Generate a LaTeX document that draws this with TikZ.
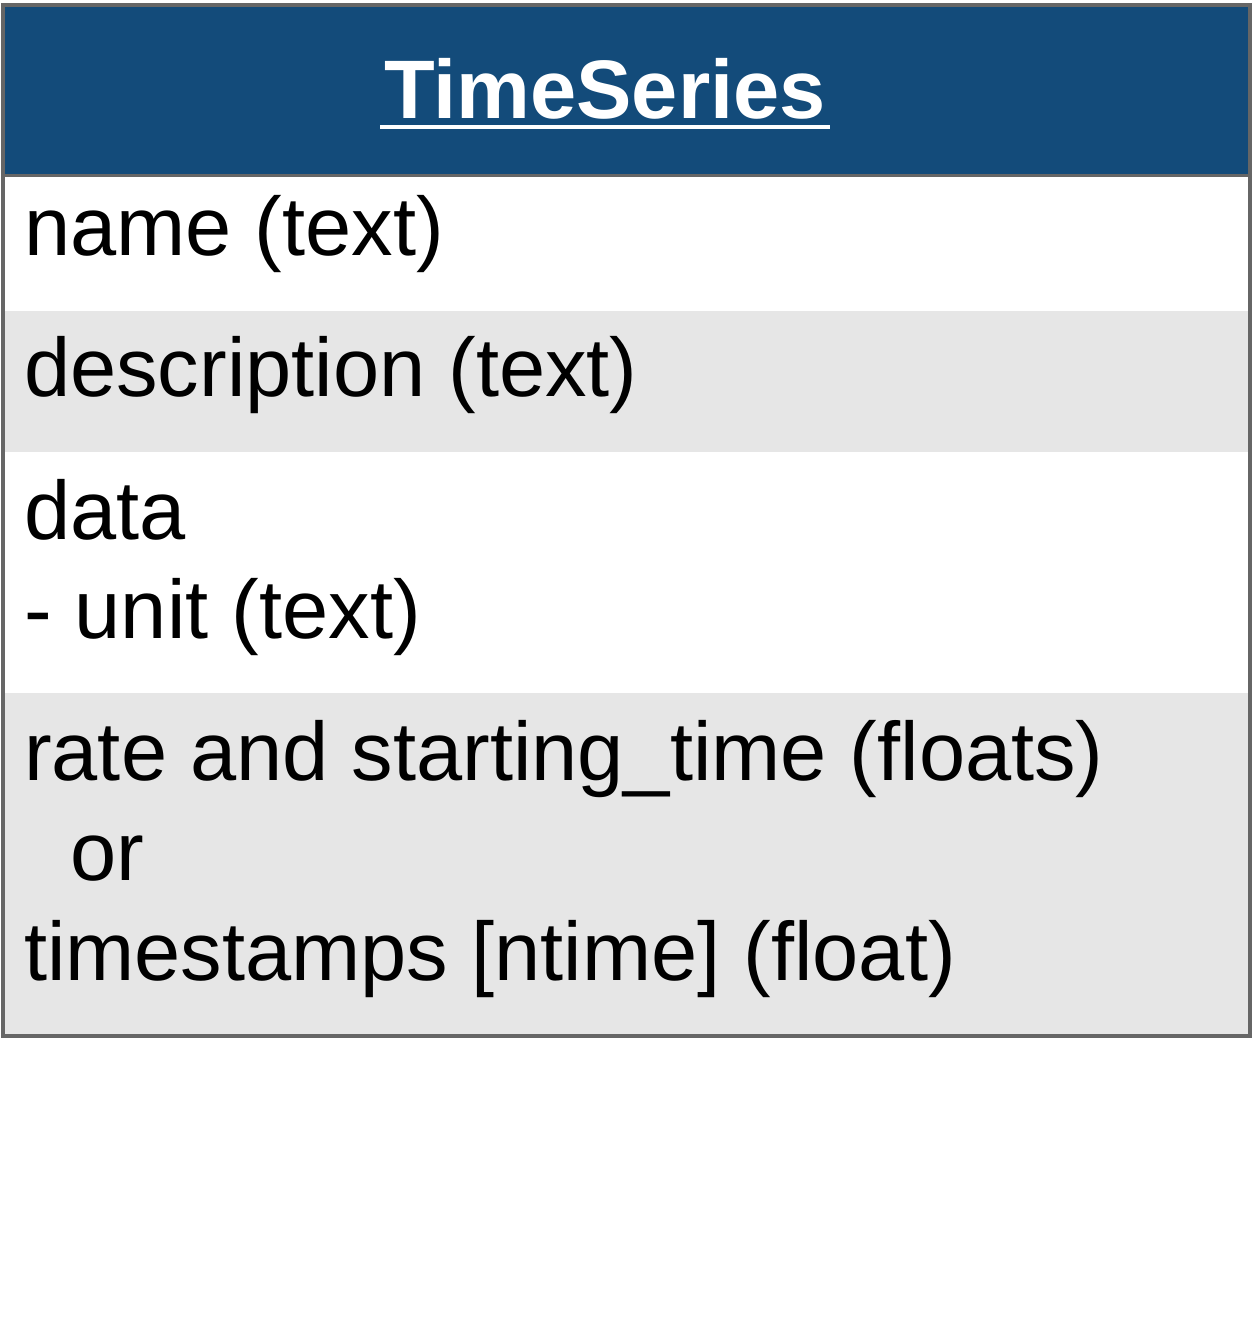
\documentclass[tikz,border=0pt]{standalone}
\usepackage{fontspec}
\setmainfont{Liberation Sans}
\usetikzlibrary{positioning}
\definecolor{headblue}{HTML}{134B7A}
\definecolor{rowgray}{HTML}{E6E6E6}
\definecolor{edgegray}{HTML}{666666}

\begin{document}
\begin{tikzpicture}[x=1pt,y=1pt,
    row/.style={minimum width=1247pt, inner sep=0pt, outer sep=0pt},
    field/.style={anchor=base west, inner sep=0pt, font=\fontsize{83}{100}\selectfont}]
    \useasboundingbox (0,0) rectangle (1253,-1344);
    \node[row, anchor=north west, minimum height=170pt, fill=headblue] (head) at (3,-5) {};
    \node[row, below=0pt of head, minimum height=136pt, fill=white] (namerow) {};
    \node[row, below=0pt of namerow, minimum height=141pt, fill=rowgray] (descrow) {};
    \node[row, below=0pt of descrow, minimum height=241pt, fill=white] (datarow) {};
    \node[row, below=0pt of datarow, minimum height=343pt, fill=rowgray] (raterow) {};
    \draw[edgegray, line width=4pt] (head.north west) rectangle (raterow.south east);
    \draw[edgegray, line width=3pt] (head.south west) -- (head.south east);
    % title
    \node[anchor=base, inner sep=0pt, text=white, font=\bfseries\fontsize{83}{100}\selectfont] (title)
        at ([xshift=-21.5pt, yshift=-113pt]head.north) {TimeSeries};
    \draw[white, line width=4pt] ([xshift=-4pt, yshift=-8.5pt]title.base west) -- ([xshift=4pt, yshift=-8.5pt]title.base east);
    % fields
    \node[field] (name) at ([xshift=21pt, yshift=-80pt]namerow.north west) {name (text)};
    \node[field] (desc) at ([xshift=21pt, yshift=-85pt]descrow.north west) {description (text)};
    \node[field] (data) at ([xshift=21pt, yshift=-87pt]datarow.north west) {data};
    \node[field] (unit) at ([xshift=21pt, yshift=-186pt]datarow.north west) {- unit (text)};
    \node[field] (rate) at ([xshift=21pt, yshift=-87pt]raterow.north west) {rate and starting\_time (floats)};
    \node[field] (or) at ([xshift=67pt, yshift=-187pt]raterow.north west) {or};
    \node[field] (stamps) at ([xshift=21pt, yshift=-287pt]raterow.north west) {timestamps [ntime] (float)};
\end{tikzpicture}
\end{document}
